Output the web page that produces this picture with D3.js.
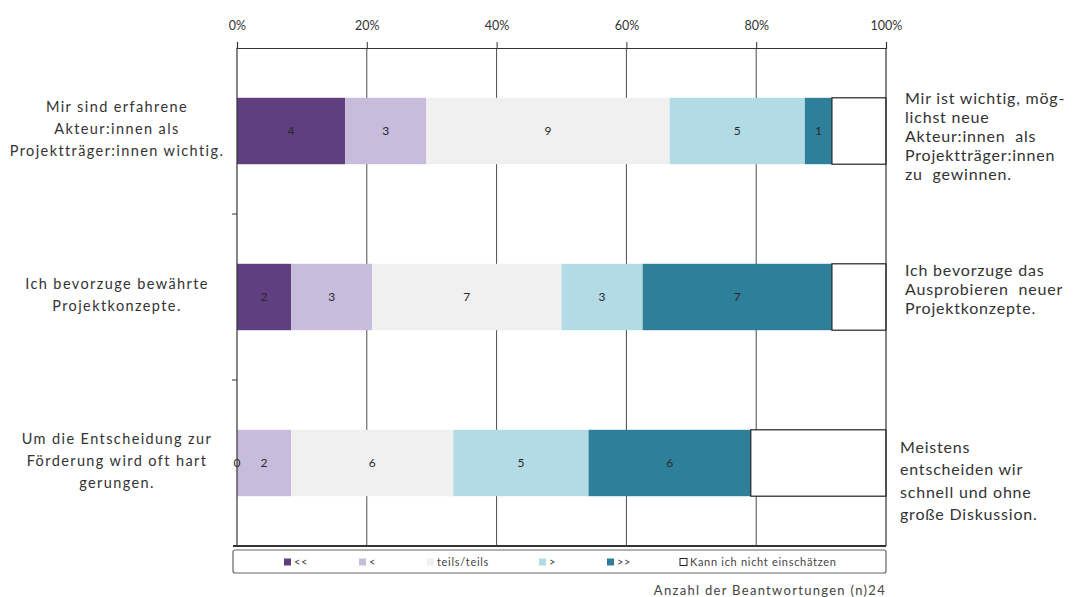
<!DOCTYPE html>
<html><head><meta charset="utf-8">
<script src="https://cdn.jsdelivr.net/npm/d3@7"></script>
<style>
body{margin:0;background:#fff;}
svg{display:block;font-family:Lato,"Open Sans",sans-serif;}
text{white-space:pre;}
</style></head>
<body><svg id="c" width="1076" height="597"></svg>
<script>
// ---- data ----
const categories = ["A", "B", "C"];
const leftLabels = [
  ["Mir sind erfahrene", "Akteur:innen als", "Projektträger:innen wichtig."],
  ["Ich bevorzuge bewährte", "Projektkonzepte."],
  ["Um die Entscheidung zur", "Förderung wird oft hart", "gerungen."]
];
const rightLabels = [
  ["Mir ist wichtig, mög-", "lichst neue", "Akteur:innen  als", "Projektträger:innen", "zu  gewinnen."],
  ["Ich bevorzuge das", "Ausprobieren  neuer", "Projektkonzepte."],
  ["Meistens", "entscheiden wir", "schnell und ohne", "große Diskussion."]
];
const seriesNames = ["<<", "<", "teils/teils", ">", ">>", "Kann ich nicht einschätzen"];
const valuesVeryLeft  = [4, 2, 0];
const valuesLeft      = [3, 3, 2];
const valuesNeutral   = [9, 7, 6];
const valuesRight     = [5, 3, 5];
const valuesVeryRight = [1, 7, 6];
const valuesUnknown   = [2, 2, 5];
const totalAnswers = 24;
const tickValues = [0, 0.2, 0.4, 0.6, 0.8, 1];
const tickLabels = ["0%", "20%", "40%", "60%", "80%", "100%"];
const footnote = "Anzahl der Beantwortungen (n)24";

// ---- styles ----
const colors = ["#5f3f7f", "#c8bcdc", "#f0f0f0", "#b2dbe6", "#2e7f99", "#ffffff"];

const series = [valuesVeryLeft, valuesLeft, valuesNeutral, valuesRight, valuesVeryRight, valuesUnknown];
const rows = categories.map((c, i) => {
  const r = {cat: c};
  seriesNames.forEach((s, j) => r[s] = series[j][i]);
  return r;
});
const stacked = d3.stack().keys(seriesNames)(rows);

const svg = d3.select("#c");
const L = 237, R = 886, T = 48, B = 546;
const x = d3.scaleLinear().domain([0, 1]).range([L, R]);
const y = d3.scaleBand().domain(categories).range([T, B]).padding(0);
const barH = y.bandwidth() * 0.4;

// gridlines
svg.append("g").selectAll("line").data(tickValues.slice(1, -1)).join("line")
  .attr("x1", d => x(d)).attr("x2", d => x(d)).attr("y1", T).attr("y2", B)
  .attr("stroke", "#4a4a4a").attr("stroke-width", 1);

// bars
const gBars = svg.append("g");
stacked.forEach((layer, j) => {
  gBars.append("g").selectAll("rect").data(layer).join("rect")
    .attr("x", d => x(d[0] / totalAnswers))
    .attr("width", d => x(d[1] / totalAnswers) - x(d[0] / totalAnswers))
    .attr("y", d => y(d.data.cat) + (y.bandwidth() - barH) / 2)
    .attr("height", barH)
    .attr("fill", colors[j])
    .attr("stroke", j === 5 ? "#222" : "none")
    .attr("stroke-width", 1.2);
});
// value labels
stacked.slice(0, 5).forEach((layer, j) => {
  gBars.append("g").selectAll("text").data(layer).join("text")
    .attr("x", d => x((d[0] + d[1]) / 2 / totalAnswers))
    .attr("y", d => y(d.data.cat) + y.bandwidth() / 2)
    .attr("dy", "0.35em").attr("text-anchor", "middle")
    .attr("font-size", 12).attr("fill", "#2a2a2a")
    .text(d => d[1] - d[0]);
});

// top axis
const ax = svg.append("g").attr("transform", `translate(0,${T})`)
  .call(d3.axisTop(x).tickValues(tickValues).tickFormat((d, i) => tickLabels[i]).tickSize(6).tickPadding(12));
ax.select(".domain").attr("stroke", "#333").attr("stroke-width", 1.2);
ax.selectAll(".tick line").attr("stroke", "#333");
ax.selectAll("text").attr("font-size", 12.5).attr("fill", "#333").attr("font-family", "Lato,sans-serif");

// left axis with ticks at band boundaries
svg.append("line").attr("x1", L).attr("x2", L).attr("y1", T).attr("y2", B).attr("stroke", "#333").attr("stroke-width", 1.2);
svg.append("g").selectAll("line").data(categories.slice(1)).join("line")
  .attr("x1", L - 5).attr("x2", L).attr("y1", d => y(d)).attr("y2", d => y(d)).attr("stroke", "#333");
// right and bottom borders
svg.append("line").attr("x1", R).attr("x2", R).attr("y1", T).attr("y2", B).attr("stroke", "#333").attr("stroke-width", 1.2);
svg.append("line").attr("x1", L - 4).attr("x2", R).attr("y1", B).attr("y2", B).attr("stroke", "#333").attr("stroke-width", 2);

// left labels
const leftLH = 22;
leftLabels.forEach((lines, i) => {
  const cy = y(categories[i]) + y.bandwidth() / 2 - 2;
  const t = svg.append("text").attr("text-anchor", "middle").attr("font-size", 14.5)
    .attr("letter-spacing", 1.4).attr("fill", "#333");
  lines.forEach((ln, k) => {
    t.append("tspan").attr("x", 117).attr("y", cy + (k - (lines.length - 1) / 2) * leftLH).attr("dy", "0.35em").text(ln);
  });
});

// right labels
const rightLH = [19, 19, 22.5];
const rightTop = [98, 270, 447];
rightLabels.forEach((lines, i) => {
  const t = svg.append("text").attr("font-size", 16).attr("letter-spacing", 0.8).attr("fill", "#333");
  lines.forEach((ln, k) => {
    t.append("tspan").attr("x", i === 2 ? 900 : 905).attr("y", rightTop[i] + k * rightLH[i]).attr("dy", "0.35em").text(ln);
  });
});

// legend
svg.append("rect").attr("x", 233).attr("y", 550).attr("width", R - 233).attr("height", 23)
  .attr("rx", 2).attr("fill", "#fff").attr("stroke", "#666").attr("stroke-width", 1.2);
const legendX = [284, 359, 427, 539, 607, 680];
const lg = svg.append("g").selectAll("g").data(seriesNames).join("g")
  .attr("transform", (d, i) => `translate(${legendX[i]},562)`);
lg.append("rect").attr("x", 0).attr("y", -3.5).attr("width", 7).attr("height", 7)
  .attr("fill", (d, i) => colors[i]).attr("stroke", (d, i) => i === 5 ? "#222" : "none");
lg.append("text").attr("x", 10).attr("dy", "0.35em").attr("font-size", 11).attr("letter-spacing", 0.7)
  .attr("fill", "#444").text(d => d);

// footnote
svg.append("text").attr("x", R).attr("y", 590).attr("dy", "0.35em").attr("text-anchor", "end")
  .attr("font-size", 13).attr("letter-spacing", 1.3).attr("fill", "#444").text(footnote);
</script></body></html>
